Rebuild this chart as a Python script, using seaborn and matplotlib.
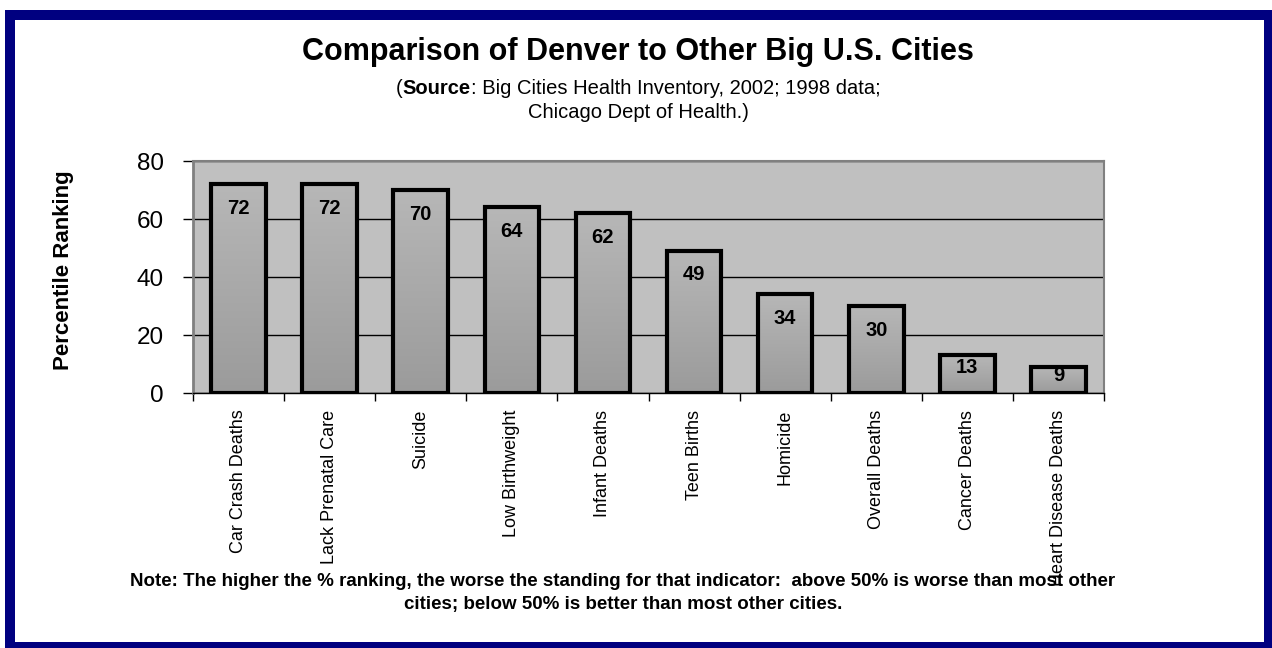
import numpy as np
import matplotlib
matplotlib.use('Agg')
import matplotlib.pyplot as plt
import seaborn as sns
from matplotlib.patches import Rectangle
from matplotlib.colors import LinearSegmentedColormap

# data
categories = ['Car Crash Deaths', 'Lack Prenatal Care', 'Suicide', 'Low Birthweight',
              'Infant Deaths', 'Teen Births', 'Homicide', 'Overall Deaths',
              'Cancer Deaths', 'Heart Disease Deaths']
values = [72, 72, 70, 64, 62, 49, 34, 30, 13, 9]
y_ticks = [0, 20, 40, 60, 80]

title = 'Comparison of Denver to Other Big U.S. Cities'
source_line1 = [('(', 'normal'), ('Source', 'bold'),
                (': Big Cities Health Inventory, 2002; 1998 data;', 'normal')]
source_line2 = 'Chicago Dept of Health.)'
note_lines = ['Note: The higher the % ranking, the worse the standing for that indicator:  '
              'above 50% is worse than most other',
              'cities; below 50% is better than most other cities.']
y_label = 'Percentile Ranking'

W, H = 1272, 648

sns.set_theme(style='white')
plt.rcParams['font.family'] = ['Liberation Sans', 'DejaVu Sans']
plt.rcParams['text.color'] = 'black'
plt.rcParams['axes.labelcolor'] = 'black'
plt.rcParams['xtick.color'] = 'black'
plt.rcParams['ytick.color'] = 'black'

fig = plt.figure(figsize=(W / 100, H / 100), dpi=100)
fig.patch.set_facecolor('white')
ax = fig.add_axes([193 / W, 1 - 393 / H, 911 / W, 232 / H])
ax.set_facecolor('#C0C0C0')

sns.barplot(x=categories, y=values, ax=ax, color='#A8A8A8', width=0.6,
            edgecolor='black', linewidth=3, saturation=1, zorder=3)

# gradient fill for the bars (light top, darker bottom)
grad = np.linspace(0, 1, 256).reshape(-1, 1)
cmap = LinearSegmentedColormap.from_list('bargrad', ['#9B9B9B', '#B7B7B7'])
for p in list(ax.patches):
    x0, y0 = p.get_x(), p.get_y()
    w, h = p.get_width(), p.get_height()
    im = ax.imshow(grad, extent=[x0, x0 + w, y0, y0 + h], origin='lower',
                   cmap=cmap, aspect='auto', zorder=2.9)
    im.set_clip_path(p)
    p.set_facecolor('none')

ax.set_xlim(-0.5, len(categories) - 0.5)
ax.set_ylim(0, 80)
ax.set_xlabel('')
ax.set_ylabel('')

# grid and spines
ax.set_axisbelow(True)
ax.yaxis.grid(True, color='black', linewidth=1)
ax.xaxis.grid(False)
for side in ['left', 'top', 'right']:
    ax.spines[side].set_color('#808080')
    ax.spines[side].set_linewidth(1.5)
ax.spines['left'].set_linewidth(2)
ax.spines['bottom'].set_color('black')
ax.spines['bottom'].set_linewidth(1)

ax.set_yticks(y_ticks)
ax.tick_params(axis='y', which='major', left=True, length=7, width=1, color='black',
               pad=14, labelsize=17.5, labelcolor='black', direction='out')

ax.set_xticks(range(len(categories)))
ax.set_xticklabels(categories, rotation=90, va='top', ha='center', fontsize=13)
ax.set_xticks(np.arange(-0.5, len(categories), 1), minor=True)
ax.tick_params(axis='x', which='major', bottom=True, length=0, pad=12, labelcolor='black')
ax.tick_params(axis='x', which='minor', bottom=True, length=6, width=1, color='black',
               direction='out')

# value labels inside the bars
for i, v in enumerate(values):
    h_px = ax.transData.transform((i, v))[1] - ax.transData.transform((i, 0))[1]
    off = min(24, 0.33 * h_px)
    ax.annotate(str(v), (i, v), xytext=(0, -off * 0.72), textcoords='offset points',
                ha='center', va='center', fontsize=14.5, fontweight='bold',
                color='black', zorder=5)

# titles
fig.text(638 / W, 1 - 52 / H, title, ha='center', va='center',
         fontsize=22, fontweight='bold')

renderer = fig.canvas.get_renderer()
parts = [fig.text(0, 1 - 88 / H, s, fontsize=14.5, fontweight=wt, ha='left', va='center')
         for s, wt in source_line1]
widths = [t.get_window_extent(renderer).width for t in parts]
x = 638 - sum(widths) / 2
for t, wd in zip(parts, widths):
    t.set_x(x / W)
    x += wd
fig.text(638 / W, 1 - 113 / H, source_line2, ha='center', va='center', fontsize=14.5)

fig.text(63 / W, 1 - 270 / H, y_label, rotation=90, ha='center', va='center',
         fontsize=16, fontweight='bold')

fig.text(623 / W, 1 - 582 / H, note_lines[0], ha='center', va='center',
         fontsize=13.5, fontweight='bold')
fig.text(623 / W, 1 - 605 / H, note_lines[1], ha='center', va='center',
         fontsize=13.5, fontweight='bold')

# navy frame
fig.patches.append(Rectangle((10 / W, 1 - 647 / H), (1269 - 10) / W, (647 - 15) / H,
                             transform=fig.transFigure, fill=False,
                             edgecolor='#000080', linewidth=7.2, zorder=10))

fig.savefig('out.png', dpi=100)
